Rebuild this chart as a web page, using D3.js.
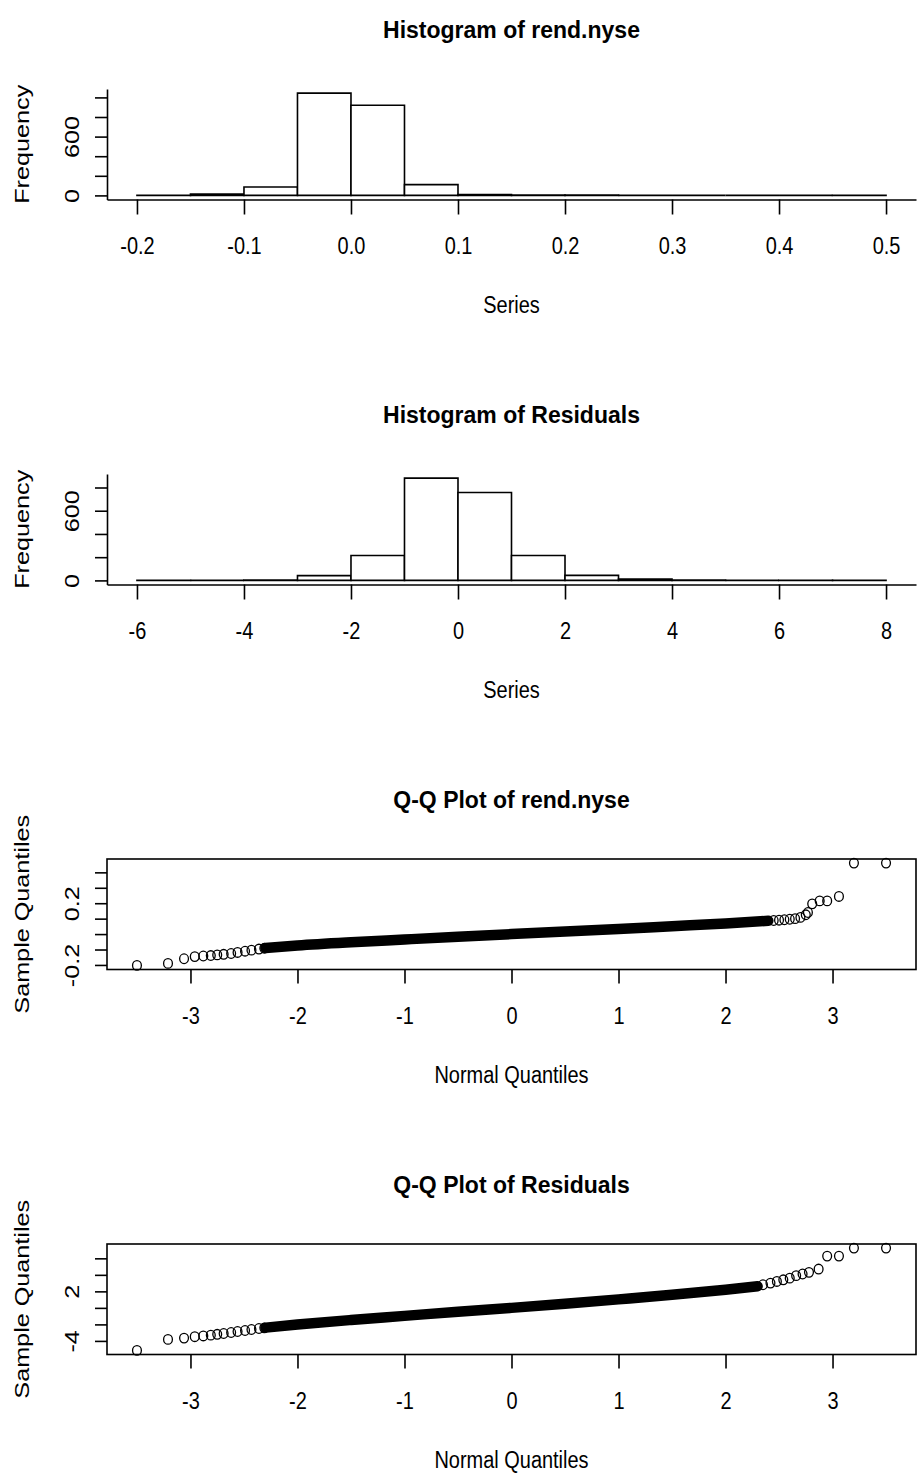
<!DOCTYPE html>
<html>
<head>
<meta charset="utf-8">
<script src="https://cdn.jsdelivr.net/npm/d3@7"></script>
<style>
  body { margin: 0; background: #fff; }
  text { font-family: "Liberation Sans", Arial, sans-serif; fill: #000; }
</style>
</head>
<body>
<svg id="chart" width="917" height="1475"></svg>
<script>
// ---- data ----
const nyseBreaks = [-0.2, -0.15, -0.1, -0.05, 0, 0.05, 0.1, 0.15, 0.2, 0.25, 0.3, 0.35, 0.4, 0.45, 0.5]
const nyseCounts = [2, 14, 86, 1044, 920, 110, 8, 3, 4, 0, 0, 0, 0, 2]
const nyseTicks = [-0.2, -0.1, 0, 0.1, 0.2, 0.3, 0.4, 0.5]

const resBreaks = [-6, -5, -4, -3, -2, -1, 0, 1, 2, 3, 4, 5, 6, 7, 8]
const resCounts = [1, 0, 4, 41, 215, 881, 757, 215, 43, 11, 3, 0, 2, 2]
const resTicks = [-6, -4, -2, 0, 2, 4, 6, 8]

const freqTicks1 = [0, 200, 400, 600, 800, 1000]
const freqTicks2 = [0, 200, 400, 600, 800]
const freqLabels = [0, 600]

const normalTicks = [-3, -2, -1, 0, 1, 2, 3]

// Q-Q of rend.nyse : separate circles in the tails, dense run in the middle
const nyseQx = [-3.50, -3.21, -3.06, -2.96, -2.88, -2.81, -2.75, -2.69, -2.62, -2.56, -2.49, -2.43, -2.36, -2.31,
  2.45, 2.50, 2.55, 2.60, 2.65, 2.70, 2.75, 2.77, 2.81, 2.88, 2.95, 3.06, 3.20, 3.50]
const nyseQy = [-0.203, -0.19, -0.16, -0.146, -0.142, -0.139, -0.135, -0.131, -0.126, -0.119, -0.111, -0.104, -0.097, -0.092,
  0.088, 0.090, 0.093, 0.096, 0.100, 0.108, 0.125, 0.140, 0.196, 0.215, 0.215, 0.244, 0.46, 0.46]
const nyseBandX = [-2.3, -2.0, -1.5, -1.0, -0.5, 0, 0.5, 1.0, 1.5, 2.0, 2.4]
const nyseBandY = [-0.090, -0.074, -0.053, -0.035, -0.017, 0.0, 0.016, 0.033, 0.051, 0.069, 0.086]
const nyseYTicks = [-0.2, -0.1, 0, 0.1, 0.2, 0.3, 0.4]
const nyseYLabels = [-0.2, 0.2]

// Q-Q of residuals
const resQx = [-3.50, -3.21, -3.06, -2.96, -2.88, -2.81, -2.75, -2.69, -2.62, -2.56, -2.49, -2.43, -2.36, -2.31,
  2.35, 2.42, 2.48, 2.54, 2.60, 2.66, 2.72, 2.78, 2.87, 2.95, 3.06, 3.20, 3.50]
const resQy = [-5.15, -3.82, -3.66, -3.49, -3.40, -3.30, -3.20, -3.10, -2.98, -2.86, -2.74, -2.62, -2.50, -2.42,
  2.8, 3.0, 3.2, 3.4, 3.6, 3.9, 4.1, 4.3, 4.7, 6.27, 6.27, 7.24, 7.24]
const resBandX = [-2.3, -2.0, -1.5, -1.0, -0.5, 0, 0.5, 1.0, 1.5, 2.0, 2.3]
const resBandY = [-2.40, -2.02, -1.47, -0.97, -0.46, 0.0, 0.50, 1.03, 1.58, 2.20, 2.62]
const resYTicks = [-4, -2, 0, 2, 4, 6]
const resYLabels = [-4, 2]

// ---- layout ----
const left = 107, right = 916
const panelTop = (i) => 89 + 385 * i
const plotH = 110.5
const fs = 21
const lw = 1.6
const flat = 'scale(0.95,1.1)'     // the picture is a bit stretched vertically
const upright = 'scale(1,1.2) rotate(-90)'

const svg = d3.select('#chart')

// R style 4% padding around data range
const pad = (lo, hi) => { const r = hi - lo; return [lo - 0.04 * r, hi + 0.04 * r] }

function labels(g, top, title, xlab, ylab) {
  const cx = (left + right) / 2
  g.append('text')
    .attr('transform', `translate(${cx},${top - 51}) scale(1,1.05)`)
    .attr('text-anchor', 'middle').attr('font-size', 23).attr('font-weight', 'bold')
    .text(title)
  g.append('text')
    .attr('transform', `translate(${cx},${top + 224}) ${flat}`)
    .attr('text-anchor', 'middle').attr('font-size', fs)
    .text(xlab)
  g.append('text')
    .attr('transform', `translate(29,${top + plotH / 2}) ${upright}`)
    .attr('text-anchor', 'middle').attr('font-size', fs)
    .text(ylab)
}

function xTickText(ax) {
  ax.selectAll('text').attr('y', null).attr('dy', null)
    .attr('transform', `translate(0,54) ${flat}`)
    .attr('font-size', fs).attr('font-family', null)
}

function yAxis(g, y, ticks, shown) {
  const ax = g.append('g').attr('transform', `translate(${left},0)`)
    .call(d3.axisLeft(y).tickValues(ticks).tickSize(12).tickSizeOuter(0)
      .tickFormat(d => shown.some(s => Math.abs(s - d) < 1e-9) ? String(d) : ''))
  ax.selectAll('line').attr('stroke', '#000').attr('stroke-width', lw)
  ax.selectAll('text')
    .attr('x', null).attr('dy', null).attr('font-size', fs).attr('font-family', null)
    .attr('text-anchor', 'middle').attr('transform', `translate(-28,0) ${upright}`)
  return ax
}

function histogram(i, breaks, counts, ticks, fmt, title) {
  const top = panelTop(i)
  const g = svg.append('g')
  const x = d3.scaleLinear().domain(pad(breaks[0], breaks[breaks.length - 1])).range([left, right])
  const y = d3.scaleLinear().domain(pad(0, d3.max(counts))).range([top + plotH, top])

  // drawn as paths so empty bins still leave their bottom edge
  g.selectAll('path.bar').data(counts).enter().append('path')
    .attr('class', 'bar')
    .attr('d', (d, k) => {
      const x0 = x(breaks[k]), x1 = x(breaks[k + 1]), y0 = y(0), y1 = y(d)
      return `M${x0},${y0}V${y1}H${x1}V${y0}Z`
    })
    .attr('fill', '#fff').attr('stroke', '#000').attr('stroke-width', lw)

  const xa = g.append('g').attr('transform', `translate(0,${top + plotH})`)
    .call(d3.axisBottom(x).tickValues(ticks).tickSize(15).tickSizeOuter(0).tickFormat(fmt))
  xa.select('.domain').attr('stroke', '#000').attr('stroke-width', lw)
  xa.selectAll('line').attr('stroke', '#000').attr('stroke-width', lw)
  xTickText(xa)

  const ya = yAxis(g, y, i === 0 ? freqTicks1 : freqTicks2, freqLabels)
  ya.select('.domain').attr('stroke', '#000').attr('stroke-width', lw)

  labels(g, top, title, 'Series', 'Frequency')
}

function qqplot(i, qx, qy, bx, by, yTicks, yLabels, title) {
  const top = panelTop(i)
  const g = svg.append('g')
  const x = d3.scaleLinear().domain(pad(d3.min(qx), d3.max(qx))).range([left, right])
  const y = d3.scaleLinear().domain(pad(d3.min(qy), d3.max(qy))).range([top + plotH, top])

  // dense middle of the sample: overlapping circles read as a thick black run
  g.append('path')
    .datum(d3.zip(bx, by))
    .attr('d', d3.line().x(d => x(d[0])).y(d => y(d[1])).curve(d3.curveMonotoneX))
    .attr('fill', 'none').attr('stroke', '#000').attr('stroke-width', 10.5).attr('stroke-linecap', 'round')

  g.selectAll('ellipse').data(d3.zip(qx, qy)).enter().append('ellipse')
    .attr('cx', d => x(d[0])).attr('cy', d => y(d[1])).attr('rx', 4.4).attr('ry', 4.8)
    .attr('fill', 'none').attr('stroke', '#000').attr('stroke-width', 1.3)

  g.append('rect').attr('x', left).attr('y', top).attr('width', right - left).attr('height', plotH)
    .attr('fill', 'none').attr('stroke', '#000').attr('stroke-width', lw)

  const xa = g.append('g').attr('transform', `translate(0,${top + plotH})`)
    .call(d3.axisBottom(x).tickValues(normalTicks).tickSize(14).tickSizeOuter(0).tickFormat(d => String(d)))
  xa.select('.domain').remove()
  xa.selectAll('line').attr('stroke', '#000').attr('stroke-width', lw)
  xTickText(xa)

  const ya = yAxis(g, y, yTicks, yLabels)
  ya.select('.domain').remove()

  labels(g, top, title, 'Normal Quantiles', 'Sample Quantiles')
}

histogram(0, nyseBreaks, nyseCounts, nyseTicks, d => d.toFixed(1), 'Histogram of rend.nyse')
histogram(1, resBreaks, resCounts, resTicks, d => String(d), 'Histogram of Residuals')
qqplot(2, nyseQx, nyseQy, nyseBandX, nyseBandY, nyseYTicks, nyseYLabels, 'Q-Q Plot of rend.nyse')
qqplot(3, resQx, resQy, resBandX, resBandY, resYTicks, resYLabels, 'Q-Q Plot of Residuals')
</script>
</body>
</html>
